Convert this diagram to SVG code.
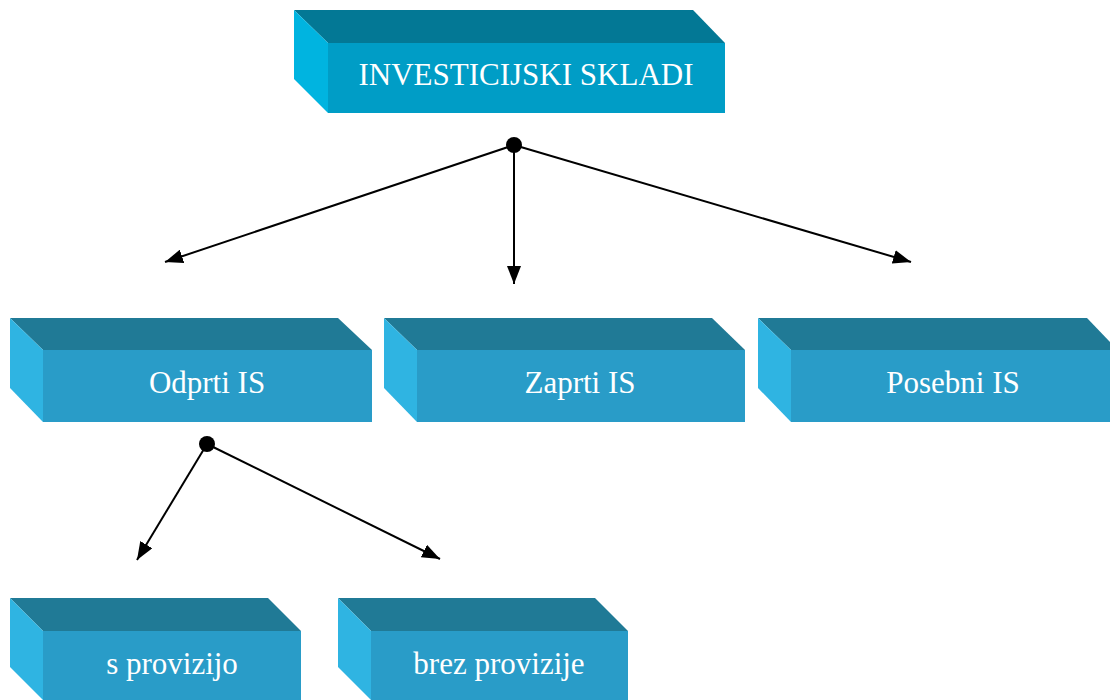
<svg xmlns="http://www.w3.org/2000/svg" width="1110" height="700" viewBox="0 0 1110 700">
<style>
.top{fill:#207A96}
.front{fill:#299CC8}
.side{fill:#2FB4E2}
.t0{fill:#037895}
.f0{fill:#009DC6}
.s0{fill:#00B4E0}
.lbl{font-family:"Liberation Serif","Times New Roman",serif;font-size:31px;fill:#ffffff;text-anchor:middle}
.conn{stroke:#000;stroke-width:2;fill:none;marker-end:url(#arr)}
</style>
<defs>
<marker id="arr" viewBox="0 0 18 14" refX="18" refY="7" markerWidth="18" markerHeight="14" markerUnits="userSpaceOnUse" orient="auto">
<path d="M0,0 L18,7 L0,14 Z" fill="#000"/>
</marker>
</defs>
<rect width="1110" height="700" fill="#ffffff"/>
<g id="node-investicijski">
<polygon class="t0" points="294,10 693,10 725,43 328,43"/>
<polygon class="s0" points="294,10 328,43 328,113 294,79"/>
<rect class="f0" x="328" y="43" width="397" height="70"/>
<text class="lbl" x="526" y="85">INVESTICIJSKI SKLADI</text>
</g>
<g id="node-odprti">
<polygon class="top" points="10,318 338,318 372,350 43,350"/>
<polygon class="side" points="10,318 43,350 43,422 10,388"/>
<rect class="front" x="43" y="350" width="329" height="72"/>
<text class="lbl" x="207" y="393">Odprti IS</text>
</g>
<g id="node-zaprti">
<polygon class="top" points="384,318 712,318 745,350 417,350"/>
<polygon class="side" points="384,318 417,350 417,422 384,388"/>
<rect class="front" x="417" y="350" width="328" height="72"/>
<text class="lbl" x="580" y="393">Zaprti IS</text>
</g>
<g id="node-posebni">
<polygon class="top" points="758,318 1087,318 1110,342 1110,350 791,350"/>
<polygon class="side" points="758,318 791,350 791,422 758,388"/>
<rect class="front" x="791" y="350" width="319" height="72"/>
<text class="lbl" x="953" y="393">Posebni IS</text>
</g>
<g id="node-s-provizijo">
<polygon class="top" points="10,598 268,598 301,631 43,631"/>
<polygon class="side" points="10,598 43,631 43,700 10,667"/>
<rect class="front" x="43" y="631" width="258" height="69"/>
<text class="lbl" x="172" y="674">s provizijo</text>
</g>
<g id="node-brez-provizije">
<polygon class="top" points="338,598 595,598 628,631 371,631"/>
<polygon class="side" points="338,598 371,631 371,700 338,667"/>
<rect class="front" x="371" y="631" width="257" height="69"/>
<text class="lbl" x="499" y="674">brez provizije</text>
</g>
<g id="connectors">
<line class="conn" x1="514" y1="145" x2="165" y2="262"/>
<line class="conn" x1="514" y1="145" x2="514" y2="284"/>
<line class="conn" x1="514" y1="145" x2="911" y2="262"/>
<circle cx="514" cy="145" r="8" fill="#000"/>
<line class="conn" x1="207" y1="444" x2="137" y2="560"/>
<line class="conn" x1="207" y1="444" x2="440" y2="559"/>
<circle cx="207" cy="444" r="8" fill="#000"/>
</g>
</svg>
